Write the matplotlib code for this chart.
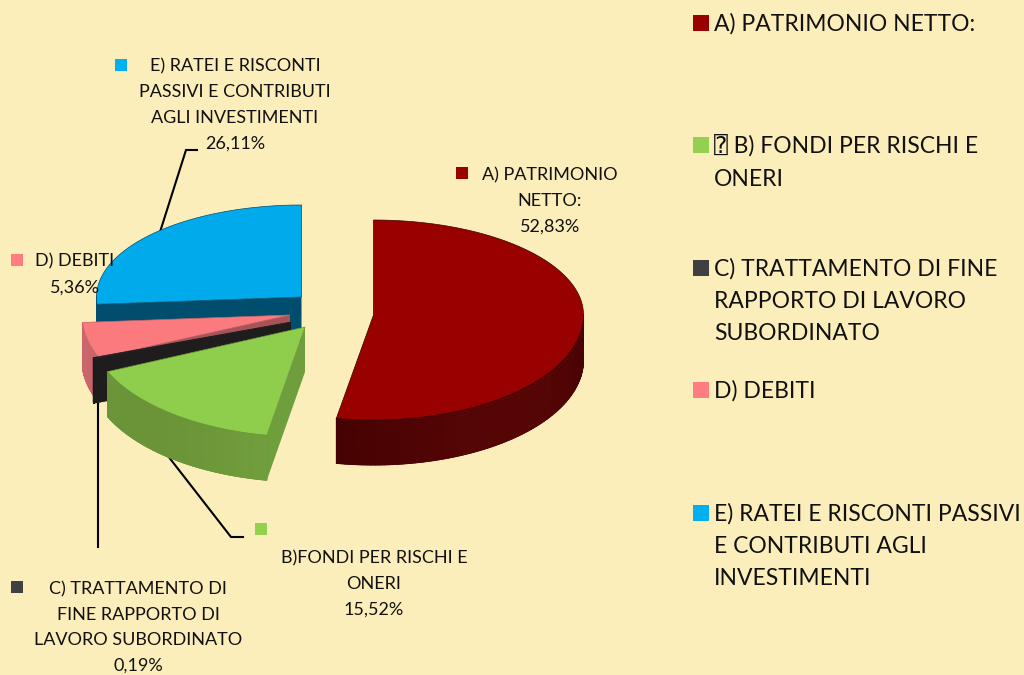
import numpy as np
import matplotlib
matplotlib.use('Agg')
import matplotlib.pyplot as plt
from matplotlib.colors import LinearSegmentedColormap

# Data
labels = ['A) PATRIMONIO\nNETTO:', 'B)FONDI PER RISCHI E\nONERI',
          'C) TRATTAMENTO DI\nFINE RAPPORTO DI\nLAVORO SUBORDINATO', 'D) DEBITI',
          'E) RATEI E RISCONTI\nPASSIVI E CONTRIBUTI\nAGLI INVESTIMENTI']
values = [52.83, 15.52, 0.19, 5.36, 26.11]
legend_labels = ['A) PATRIMONIO NETTO:', '\u2370 B) FONDI PER RISCHI E\nONERI',
                 'C) TRATTAMENTO DI FINE\nRAPPORTO DI LAVORO\nSUBORDINATO', 'D) DEBITI',
                 'E) RATEI E RISCONTI PASSIVI\nE CONTRIBUTI AGLI\nINVESTIMENTI']

# Styles and layout, pixels
bg = '#fceeba'
top_colors = ['#990000', '#8fce4d', '#262626', '#fb7a7e', '#00aaeb']
marker_colors = ['#990000', '#92d050', '#404040', '#ff7c80', '#00b0f0']
side_colors = [('#3a0000', '#560505'), ('#6a9437', '#7dad47'), ('#1c1c1c', '#1c1c1c'),
               ('#c9666a', '#d0666a'), ('#004d6e', '#004d6e')]
face_colors = ['#560505', '#6f9e3c', '#1f1c1d', '#a85358', '#004d6e']
centers = [(373.5, 315), (305, 327), (291, 322), (290, 315), (301.5, 297)]
radii = [(210, 95, 105), (216, 95, 110), (215, 95, 90), (208, 95, 108), (205, 92, 105)]
face_side = [None, 'start', 'start', 'start', 'start']
depth = 45
draw_order = [4, 3, 2, 1, 0]

label_pos = [(550, 200.5), (374, 584), (138, 627.5), (75, 274.5), (235, 105)]
label_markers = [(462, 173), (261, 529), (17, 587), (17, 260), (121, 65)]
legend_y = [24, 162.5, 301, 391, 546.5]
legend_marker_y = [23, 145, 268, 390, 513]
leaders = [([160, 186, 197], [232, 150, 150]),
           ([168, 231, 243], [456, 537, 537]),
           ([98, 98], [403, 547])]

fig = plt.figure(figsize=(10.24, 6.75), dpi=100, facecolor=bg)
ax = fig.add_axes([0, 0, 1, 1])
ax.set_xlim(0, 1024)
ax.set_ylim(675, 0)
ax.axis('off')
font = ['Lato', 'DejaVu Sans Mono']


def rim(i, theta):
    # point on the squashed circle of slice i, front half is a bit deeper
    cx, cy = centers[i]
    rx, ry_back, ry_front = radii[i]
    s = np.sin(theta)
    return cx + rx * np.cos(theta), cy - np.where(s > 0, ry_back, ry_front) * s


starts = 90 - 3.6 * np.concatenate([[0], np.cumsum(values)[:-1]])
sweeps = 3.6 * np.array(values)

for x, y in leaders:
    ax.plot(x, y, color='black', lw=1.5, zorder=1, solid_joinstyle='miter')

z = 2
for i in draw_order:
    a0, a1 = starts[i], starts[i] - sweeps[i]
    angles = np.radians(np.linspace(a0, a1, 160))
    x, y = rim(i, angles)
    cx, cy = centers[i]

    # radial cut face
    if face_side[i]:
        ax.fill([cx, x[0], x[0], cx], [cy, y[0], y[0] + depth, cy + depth],
                color=face_colors[i], lw=0, zorder=z)
        z += 1

    # outer wall, front half only, shaded from the middle to the ends
    front = np.sin(angles) <= 0.02
    if front.sum() > 1:
        xf, yf = x[front], y[front]
        ax.fill(np.r_[xf, xf[::-1]], np.r_[yf, yf[::-1] + depth],
                color=side_colors[i][0], lw=0.5, zorder=z)
        t = np.abs(np.cos(angles[front] + np.radians(50))) ** 2
        cmap = LinearSegmentedColormap.from_list('wall', side_colors[i])
        ax.pcolormesh(np.vstack([xf, xf]), np.vstack([yf, yf + depth]), np.vstack([t, t]),
                      shading='gouraud', cmap=cmap, vmin=0, vmax=1, zorder=z)
        z += 1

    # top face
    ax.fill(np.r_[cx, x], np.r_[cy, y], facecolor=top_colors[i],
            edgecolor=side_colors[i][0], lw=0.5, zorder=z)
    z += 1

for i in range(len(values)):
    pct = f'{values[i]:.2f}'.replace('.', ',') + '%'
    ax.text(label_pos[i][0], label_pos[i][1], labels[i] + '\n' + pct, ha='center', va='center',
            fontsize=13, family=font, color='#111111', linespacing=1.74, zorder=50)
    ax.plot(*label_markers[i], 's', color=marker_colors[i], ms=9, mew=0, zorder=50)
    ax.plot(701, legend_marker_y[i], 's', color=marker_colors[i], ms=11.5, mew=0, zorder=50)
    ax.text(714, legend_y[i], legend_labels[i], ha='left', va='center',
            fontsize=16.5, family=font, color='#111111', linespacing=1.66, zorder=50)

fig.savefig('out.png', dpi=100, facecolor=bg)
